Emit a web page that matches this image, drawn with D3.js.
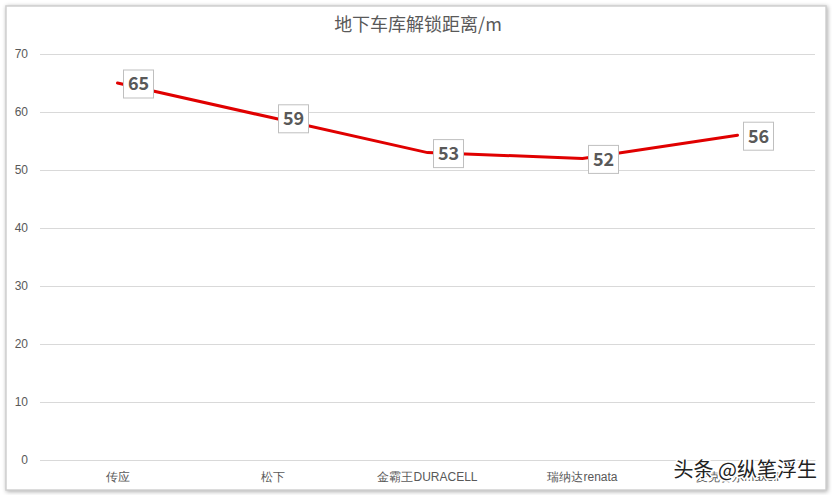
<!DOCTYPE html>
<html><head><meta charset="utf-8">
<script src="https://cdn.jsdelivr.net/npm/d3@7"></script>
<style>body{margin:0;background:#fff;font-family:"Microsoft YaHei","Noto Sans CJK SC",sans-serif}</style>
</head><body>
<svg id="chart" width="832" height="495"></svg>
<script>
var categories = ["传应", "松下", "金霸王DURACELL", "瑞纳达renata", "麦克赛尔maxell"];
var values = [65, 59, 53, 52, 56];
var yTicks = [0, 10, 20, 30, 40, 50, 60, 70];

var svg = d3.select("#chart");
svg.append("rect").attr("x", 6).attr("y", 6).attr("width", 820).attr("height", 484)
  .attr("fill", "#fff").attr("stroke", "#d0d0d0").attr("stroke-width", 1.5)
  .style("filter", "drop-shadow(1px 1px 2px #aaa)");

var x = d3.scaleBand().domain(categories).range([40, 815]);
var y = d3.scaleLinear().domain([0, 70]).range([460, 54]);

svg.append("text").attr("x", 418).attr("y", 31).attr("text-anchor", "middle")
  .attr("font-size", 18).attr("fill", "#595959").text("地下车库解锁距离/m");

var ya = svg.append("g").attr("transform", "translate(40,0)")
  .call(d3.axisLeft(y).tickValues(yTicks).tickSize(-775).tickPadding(12));
ya.select(".domain").remove();
ya.selectAll("line").attr("stroke", "#d9d9d9");
ya.selectAll("text").attr("fill", "#595959").attr("font-size", 12);

var xa = svg.append("g").attr("transform", "translate(0,460)")
  .call(d3.axisBottom(x).tickSize(0).tickPadding(12));
xa.select(".domain").attr("stroke", "#d9d9d9");
xa.selectAll("text").attr("fill", "#595959").attr("font-size", 12);

var pts = categories.map(function(c, i) { return [x(c) + x.bandwidth() / 2, y(values[i])]; });
svg.append("path").attr("d", d3.line()(pts)).attr("fill", "none")
  .attr("stroke", "#e00000").attr("stroke-width", 3).attr("stroke-linecap", "round");

var lab = svg.selectAll("g.lab").data(pts).enter().append("g")
  .attr("transform", function(d) { return "translate(" + (d[0] + 21) + "," + (d[1] + 1) + ")"; });
lab.append("rect").attr("x", -15).attr("y", -14).attr("width", 30).attr("height", 28)
  .attr("fill", "#fff").attr("stroke", "#bfbfbf");
lab.append("text").attr("text-anchor", "middle").attr("dy", "0.36em")
  .attr("font-size", 18).attr("font-weight", "bold").attr("fill", "#595959")
  .text(function(d, i) { return values[i]; });

svg.append("text").attr("x", 817).attr("y", 477).attr("text-anchor", "end")
  .attr("font-size", 20).attr("fill", "#222").attr("stroke", "#fff").attr("stroke-width", 3)
  .attr("paint-order", "stroke").text("头条 @纵笔浮生");
</script>
</body></html>
